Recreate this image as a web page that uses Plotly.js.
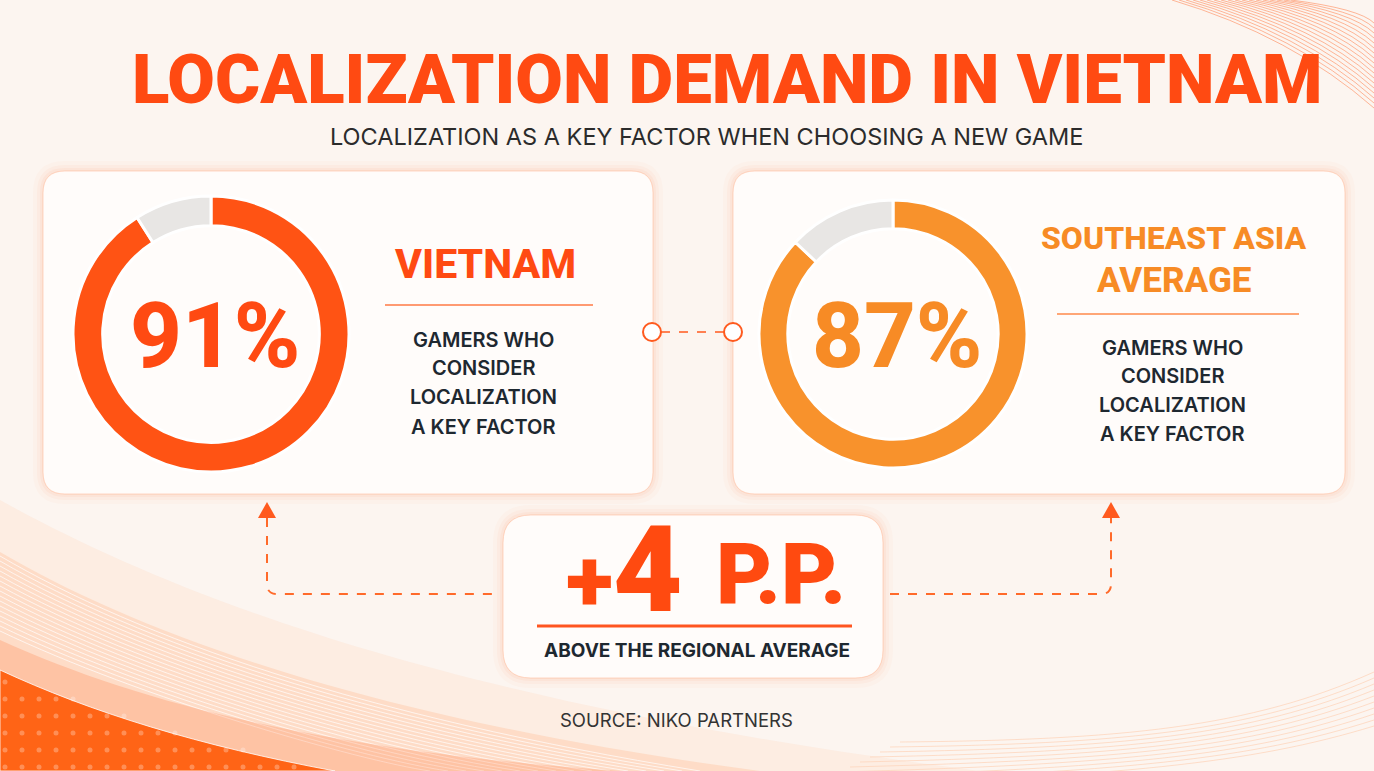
<!DOCTYPE html>
<html>
<head>
<meta charset="utf-8">
<script src="https://cdn.plot.ly/plotly-3.0.1.min.js"></script>
<style>html,body{margin:0;padding:0;background:#FCF5F0;}#chart{width:1374px;height:771px;}</style>
</head>
<body>
<div id="chart"></div>
<script>
// ---------- data ----------
const categories = ['Vietnam', 'Southeast Asia average'];
const shares = [91, 87];
const remainderLabel = 'Other';
const headerLines = [['VIETNAM'], ['SOUTHEAST ASIA', 'AVERAGE']];
const descLines = ['GAMERS WHO', 'CONSIDER', 'LOCALIZATION', 'A KEY FACTOR'];
const titleText = 'LOCALIZATION DEMAND IN VIETNAM';
const subtitleText = 'LOCALIZATION AS A KEY FACTOR WHEN CHOOSING A NEW GAME';
const deltaUnit = 'P.P.';
const deltaCaption = 'ABOVE THE REGIONAL AVERAGE';
const sourceText = 'SOURCE: NIKO PARTNERS';

// ---------- styling / layout helpers ----------
const W = 1374, H = 771;
const ringColors = ['#FF5314', '#F8922C'];
const greyColor = '#E8E6E4';
const textColors = ['#FF4A12', '#F78B25'];
const dark = '#1E2830';
const centers = [[211, 334, 138], [893, 334, 134]];
const headerX = [485, 1174];
const headerY = [[264], [238, 280]];
const headerSize = [[41], [32, 35]];
const descY = [[340, 368, 397, 427], [348, 376, 405, 434]];

function rr(x0, y0, x1, y1, r) {
  return `M${x0 + r},${y0} L${x1 - r},${y0} Q${x1},${y0} ${x1},${y0 + r} L${x1},${y1 - r} Q${x1},${y1} ${x1 - r},${y1} L${x0 + r},${y1} Q${x0},${y1} ${x0},${y1 - r} L${x0},${y0 + r} Q${x0},${y0} ${x0 + r},${y0} Z`;
}

const shapes = [];
const S = (o) => shapes.push(Object.assign({xref: 'x', yref: 'y', layer: 'below'}, o));

// background decoration: top right lines
for (let k = 0; k < 18; k++) {
  S({type: 'path', path: `M${1172 + k * 7},0 Q${1292 + k * 4},${36 - k * 1.6} 1374,${108 - k * 5}`,
     line: {color: 'rgba(255,110,50,0.6)', width: 0.8}});
}
// lower right faint lines
for (let k = 0; k < 10; k++) {
  S({type: 'path', path: `M1374,${672 + k * 6} C1250,${728 + k * 4} 1120,${740 + k * 4} ${900 - k * 10},${742 + k * 5}`,
     line: {color: 'rgba(255,190,150,0.45)', width: 1}});
}
// lower left waves
S({type: 'path', path: 'M0,500 C180,600 460,705 980,771 L0,771 Z', fillcolor: 'rgba(255,215,190,0.28)', line: {width: 0}});
S({type: 'path', path: 'M0,552 C150,640 390,722 760,771 L0,771 Z', fillcolor: 'rgba(255,190,150,0.35)', line: {width: 0}});
for (let k = 0; k < 16; k++) {
  S({type: 'path', path: `M0,${556 + k * 5} C140,${638 + k * 4} 360,${716 + k * 3} ${700 - k * 18},771`,
     line: {color: 'rgba(255,255,255,0.85)', width: 0.8}});
}
S({type: 'path', path: 'M0,640 C150,708 340,752 620,771 L0,771 Z', fillcolor: 'rgba(255,120,60,0.25)', line: {width: 0}});
S({type: 'path', path: 'M0,670 C90,712 200,746 335,771 L0,771 Z', fillcolor: '#FF6416', line: {color: 'rgba(255,255,255,0.8)', width: 1}});
for (let gx = 5; gx < 320; gx += 17) {
  for (let gy = 682; gy < 771; gy += 17) {
    const t = gx / 340;
    const edge = 672 + 99 * (0.45 * t + 0.55 * t * t) + 14 * Math.sin(Math.PI * t);
    if (gy > edge + 6) {
      S({type: 'circle', x0: gx - 2.5, x1: gx + 2.5, y0: gy - 2.5, y1: gy + 2.5,
         fillcolor: 'rgba(255,255,255,0.28)', line: {width: 0}});
    }
  }
}

// cards with glow
function card(x0, y0, x1, y1, r) {
  [[10, 0.035], [6, 0.05], [3, 0.07]].forEach(([e, a]) => {
    S({type: 'path', path: rr(x0 - e, y0 - e, x1 + e, y1 + e, r + e), fillcolor: `rgba(255,140,80,${a})`, line: {width: 0}});
  });
  S({type: 'path', path: rr(x0, y0, x1, y1, r), fillcolor: '#FFFCFA', line: {color: 'rgba(255,170,130,0.45)', width: 1}});
}
card(43, 171, 653, 494, 22);
card(733, 171, 1345, 494, 22);
card(503, 515, 883, 678, 28);

// divider lines
S({type: 'line', x0: 385, x1: 593, y0: 305, y1: 305, line: {color: '#FF7A45', width: 1.5}});
S({type: 'line', x0: 1057, x1: 1299, y0: 314, y1: 314, line: {color: '#FF8A4A', width: 1.5}});
S({type: 'line', x0: 537, x1: 852, y0: 626, y1: 626, line: {color: '#FF5520', width: 3}});

// connector between cards
S({type: 'line', x0: 661, x1: 724, y0: 332, y1: 332, line: {color: '#FF5A1E', width: 1.5, dash: 'dash'}});
S({type: 'circle', x0: 643, x1: 661, y0: 323, y1: 341, fillcolor: '#FFFFFF', line: {color: '#FF5A1E', width: 2}});
S({type: 'circle', x0: 724, x1: 742, y0: 323, y1: 341, fillcolor: '#FFFFFF', line: {color: '#FF5A1E', width: 2}});

// dashed arrows
S({type: 'path', path: 'M267,518 L267,584 Q267,594 277,594 L497,594', line: {color: '#FF6A2A', width: 2, dash: 'dash'}});
S({type: 'path', path: 'M890,594 L1101,594 Q1111,594 1111,584 L1111,518', line: {color: '#FF6A2A', width: 2, dash: 'dash'}});
S({type: 'path', path: 'M258,518 L276,518 L267,502 Z', fillcolor: '#FF5A1E', line: {width: 0}});
S({type: 'path', path: 'M1102,518 L1120,518 L1111,502 Z', fillcolor: '#FF5A1E', line: {width: 0}});

// ---------- traces ----------
const traces = shares.map((v, i) => {
  const [cx, cy, r] = centers[i];
  return {
    type: 'pie',
    values: [v, 100 - v],
    labels: [categories[i], remainderLabel],
    hole: 0.785,
    sort: false,
    direction: 'clockwise',
    rotation: 0,
    textinfo: 'none',
    hoverinfo: 'label+percent',
    showlegend: false,
    marker: {colors: [ringColors[i], greyColor], line: {color: '#FFFFFF', width: 3}},
    domain: {x: [(cx - r) / W, (cx + r) / W], y: [1 - (cy + r) / H, 1 - (cy - r) / H]}
  };
});

// ---------- annotations ----------
const ann = [];
const A = (o) => ann.push(Object.assign({xref: 'x', yref: 'y', showarrow: false, xanchor: 'center', yanchor: 'middle'}, o));
A({x: 727, y: 79, text: titleText, font: {family: 'Roboto', size: 69, weight: 900, color: '#FF4A12'}});
A({x: 706, y: 136, text: subtitleText, font: {family: 'Inter', size: 23.5, weight: 400, color: '#2B2B2B'}});
shares.forEach((v, i) => {
  const [cx, cy] = centers[i];
  A({x: cx + 4, y: cy + 2, text: v + '%', font: {family: 'Roboto', size: 90, weight: 800, color: textColors[i]}});
  headerLines[i].forEach((t, j) => {
    A({x: headerX[i], y: headerY[i][j], text: t, font: {family: 'Roboto', size: headerSize[i][j], weight: 800, color: textColors[i]}});
  });
  descLines.forEach((t, j) => {
    A({x: headerX[i] - 2, y: descY[i][j], text: t, font: {family: 'Inter', size: 20, weight: 600, color: dark}});
  });
});
const delta = shares[0] - shares[1];
A({x: 624, y: 570, text: `+<span style="font-size:120px">${delta}</span>`, xanchor: 'center',
   font: {family: 'Roboto', size: 88, weight: 900, color: '#FF4A10'}});
A({x: 714, y: 574, text: deltaUnit, xanchor: 'left',
   font: {family: 'Roboto', size: 86, weight: 900, color: '#FF4A10'}});
A({x: 697, y: 650, text: deltaCaption, font: {family: 'Inter', size: 19, weight: 700, color: dark}});
A({x: 676, y: 720, text: sourceText, font: {family: 'Inter', size: 18.5, weight: 400, color: '#333333'}});

const layout = {
  width: W, height: H,
  margin: {l: 0, r: 0, t: 0, b: 0},
  paper_bgcolor: '#FCF5F0',
  plot_bgcolor: 'rgba(0,0,0,0)',
  xaxis: {range: [0, W], visible: false, fixedrange: true},
  yaxis: {range: [H, 0], visible: false, fixedrange: true},
  shapes: shapes,
  annotations: ann,
  showlegend: false
};

Plotly.newPlot('chart', traces, layout, {displayModeBar: false, staticPlot: true});
</script>
</body>
</html>
